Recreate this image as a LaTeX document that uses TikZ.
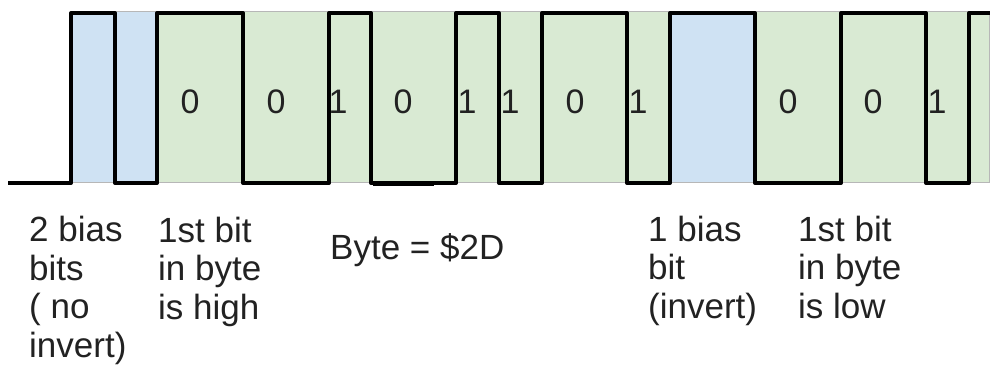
\documentclass[tikz,border=0pt]{standalone}
\usepackage{fontspec}
\setmainfont{Liberation Sans}
\definecolor{biasblue}{HTML}{CFE2F3}
\definecolor{datagreen}{HTML}{D9EAD3}
\definecolor{framegray}{HTML}{B7B7B7}
\definecolor{inkgray}{HTML}{222222}
\begin{document}
\begin{tikzpicture}[x=1pt,y=-1pt,
  cell/.style={draw=framegray,line width=0.8pt},
  wave/.style={draw=black,line width=4pt,line join=round},
  bitlabel/.style={font=\fontsize{34}{38.5}\selectfont,text=inkgray,inner sep=0pt,anchor=base},
  note/.style={font=\fontsize{35}{38.5}\selectfont,text=inkgray,inner sep=0pt,anchor=base west,align=left}]
\useasboundingbox (0,0) rectangle (994,383);

% bit cells behind the waveform
\path[cell,fill=biasblue]   (71,11)  rectangle (157,182);
\path[cell,fill=datagreen]  (157,11) rectangle (670,182);
\path[cell,fill=biasblue]   (670,11) rectangle (755,182);
\path[cell,fill=datagreen]  (755,11) rectangle (989,182);

% waveform
\draw[wave] (8,183) -- (71,183) -- (71,13) -- (115,13) -- (115,183)
  -- (157,183) -- (157,13) -- (243,13) -- (243,183) -- (329,183)
  -- (329,13) -- (371,13) -- (371,183) -- (456,183) -- (456,13)
  -- (499,13) -- (499,183) -- (542,183) -- (542,13) -- (627,13)
  -- (627,183) -- (670,183) -- (670,13) -- (755,13) -- (755,183)
  -- (841,183) -- (841,13) -- (926,13) -- (926,183) -- (969,183)
  -- (969,13) -- (990,13);
\draw[draw=black,line width=3pt] (373,184.5) -- (434,184.5);

% bit values
\node[bitlabel] (b1)  at (190,113) {0};
\node[bitlabel] (b2)  at (276,113) {0};
\node[bitlabel] (b3)  at (338,113) {1};
\node[bitlabel] (b4)  at (403,113) {0};
\node[bitlabel] (b5)  at (467,113) {1};
\node[bitlabel] (b6)  at (510,113) {1};
\node[bitlabel] (b7)  at (575,113) {0};
\node[bitlabel] (b8)  at (638,113) {1};
\node[bitlabel] (b9)  at (788,113) {0};
\node[bitlabel] (b10) at (873,113) {0};
\node[bitlabel] (b11) at (937,113) {1};

% notes under the waveform (anchored on the baseline of the last line)
\node[note] (n1) at (29,357)  {2 bias\\bits\\( no\\invert)};
\node[note] (n2) at (158,319) {1st bit\\in byte\\is high};
\node[note] (n3) at (330,259) {Byte = \$2D};
\node[note] (n4) at (648,318) {1 bias\\bit\\(invert)};
\node[note] (n5) at (798,318) {1st bit\\in byte\\is low};
\end{tikzpicture}
\end{document}
